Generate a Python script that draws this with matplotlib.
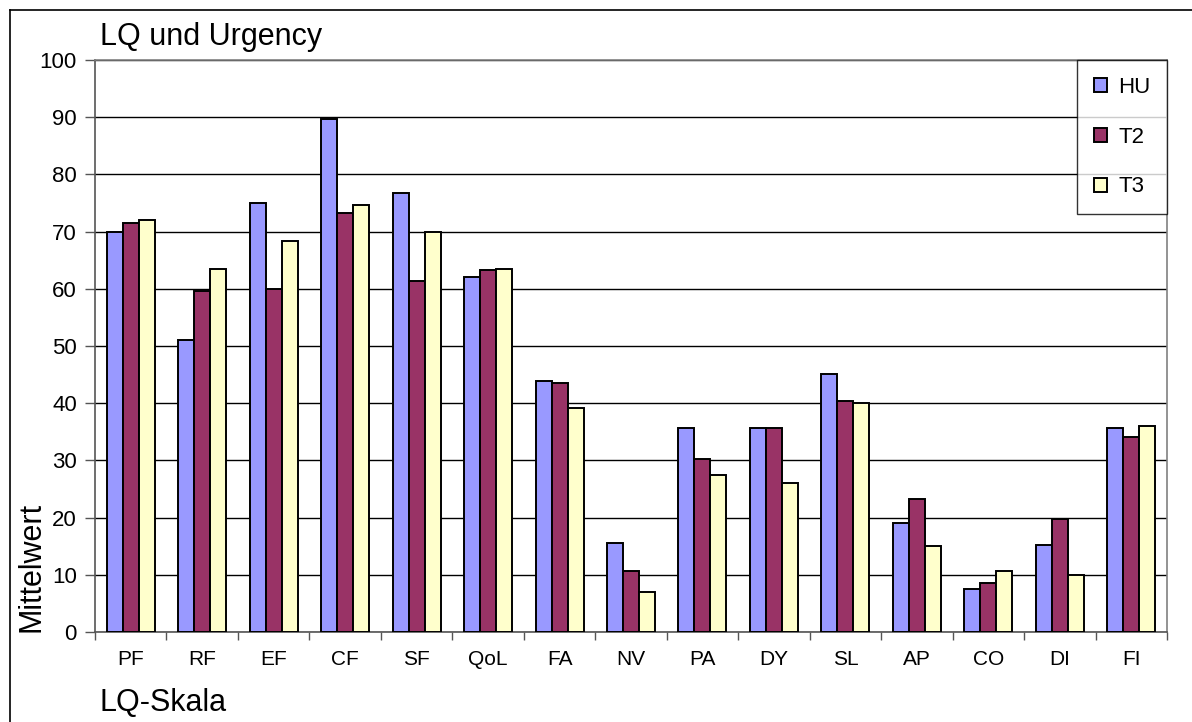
import numpy as np
import matplotlib
matplotlib.use("Agg")
import matplotlib.pyplot as plt
from matplotlib.lines import Line2D

plt.rcParams['font.family'] = ['Liberation Sans', 'DejaVu Sans']

categories = ['PF', 'RF', 'EF', 'CF', 'SF', 'QoL', 'FA', 'NV', 'PA', 'DY',
              'SL', 'AP', 'CO', 'DI', 'FI']
hu = [70.0, 51.0, 75.0, 89.7, 76.7, 62.1, 43.8, 15.5, 35.6, 35.6, 45.1, 19.0, 7.5, 15.2, 35.7]
t2 = [71.5, 59.7, 60.0, 73.2, 61.4, 63.2, 43.5, 10.7, 30.2, 35.6, 40.3, 23.3, 8.5, 19.8, 34.1]
t3 = [72.0, 63.5, 68.3, 74.7, 70.0, 63.5, 39.2, 7.0, 27.4, 26.0, 40.0, 15.0, 10.7, 10.0, 36.0]
series = [('HU', hu, '#9999FF'), ('T2', t2, '#993366'), ('T3', t3, '#FFFFCC')]

W, H = 1192, 722
fig = plt.figure(figsize=(W / 100, H / 100), dpi=100)
# axes box in pixels: left 95, right 1167, top 60, bottom 632
ax = fig.add_axes([95 / W, 1 - 632 / H, (1167 - 95) / W, (632 - 60) / H])

x = np.arange(len(categories))
bw = 0.224
for i, (name, vals, col) in enumerate(series):
    ax.bar(x + (i - 1) * bw, vals, bw, color=col, edgecolor='black',
           linewidth=1.4, label=name, zorder=3)

ax.set_xlim(-0.5, len(categories) - 0.5)
ax.set_ylim(0, 100)
ax.set_yticks(np.arange(0, 101, 10))
ax.yaxis.grid(True, color='black', linewidth=1.0, zorder=0)
ax.set_axisbelow(True)

ax.set_xticks(np.arange(-0.5, len(categories)), minor=False)
ax.set_xticklabels([])
ax.set_xticks(x, minor=True)
ax.set_xticklabels(categories, minor=True)
ax.tick_params(axis='x', which='major', direction='out', length=6, color='#555555', width=1)
ax.tick_params(axis='x', which='minor', length=0, pad=13, labelsize=15)
ax.tick_params(axis='y', direction='out', length=7, color='#555555', width=1,
               labelsize=16, pad=6)

for s in ax.spines.values():
    s.set_color('#808080')
    s.set_linewidth(1.2)
ax.spines['left'].set_color('#555555')
ax.spines['bottom'].set_color('#555555')

leg = ax.legend(loc='upper right', bbox_to_anchor=(1.0, 1.0), borderaxespad=0,
                fontsize=16, frameon=True, fancybox=False, edgecolor='black',
                handlelength=0.6, handleheight=0.6, handletextpad=0.5,
                labelspacing=1.3, borderpad=0.75)
leg.get_frame().set_linewidth(1.0)
for p in leg.get_patches():
    p.set_linewidth(1.4)

fig.text(100 / W, 1 - 37 / H, 'LQ und Urgency', fontsize=22, ha='left', va='center')
fig.text(100 / W, 1 - 703 / H, 'LQ-Skala', fontsize=22, ha='left', va='center')
fig.text(32 / W, 1 - 632 / H, 'Mittelwert', fontsize=22, rotation=90,
         ha='center', va='bottom')

# outer chart border (left and top edges visible)
fig.add_artist(Line2D([10 / W, 10 / W], [0, 1 - 10 / H], transform=fig.transFigure,
                      color='black', linewidth=1.2))
fig.add_artist(Line2D([10 / W, 1], [1 - 10 / H, 1 - 10 / H], transform=fig.transFigure,
                      color='black', linewidth=1.2))

fig.savefig('out.png', dpi=100, facecolor='white')
